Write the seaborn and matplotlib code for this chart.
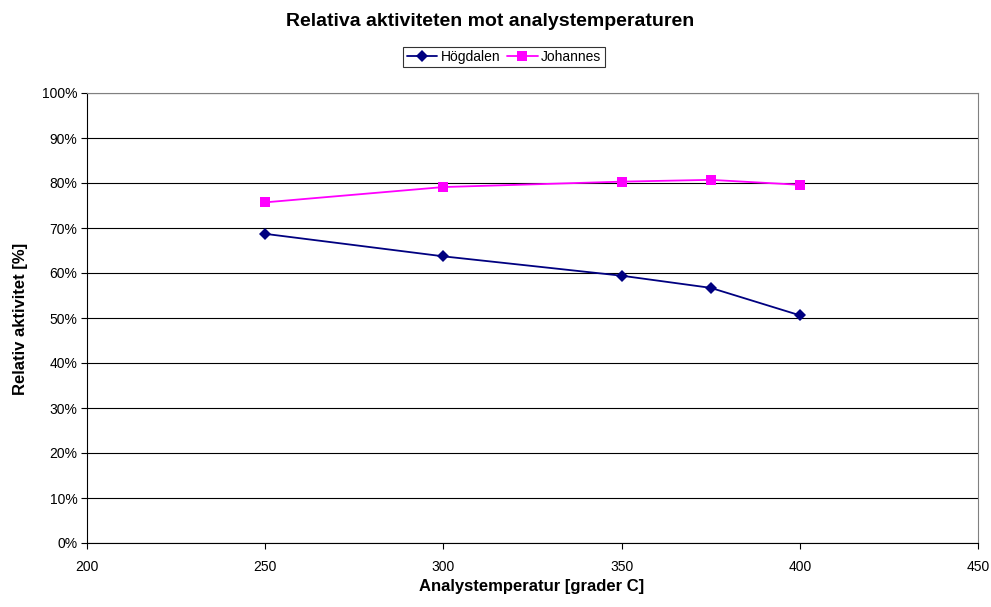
import matplotlib
matplotlib.use("Agg")
import matplotlib.pyplot as plt
import seaborn as sns
import pandas as pd
from matplotlib.ticker import FuncFormatter, MultipleLocator

temperatures = [250, 300, 350, 375, 400]
hogdalen = [68.7, 63.7, 59.4, 56.7, 50.6]
johannes = [75.7, 79.1, 80.3, 80.7, 79.6]
series_names = ["Högdalen", "Johannes"]

df = pd.DataFrame({
    "temp": temperatures * 2,
    "val": hogdalen + johannes,
    "serie": [series_names[0]] * len(temperatures) + [series_names[1]] * len(temperatures),
})

sns.set_theme(style="white")
plt.rcParams['font.family'] = ['Liberation Sans', 'DejaVu Sans']
plt.rcParams['text.color'] = 'black'
plt.rcParams['axes.labelcolor'] = 'black'
plt.rcParams['xtick.color'] = 'black'
plt.rcParams['ytick.color'] = 'black'

W, H = 991, 607
fig = plt.figure(figsize=(W / 100, H / 100), dpi=100)
ax = fig.add_axes([87 / W, 1 - 543 / H, (978 - 87) / W, (543 - 93) / H])

palette = {"Högdalen": "#000080", "Johannes": "#FF00FF"}
markers = {"Högdalen": "D", "Johannes": "s"}
sns.lineplot(data=df, x="temp", y="val", hue="serie", style="serie",
             palette=palette, markers=markers, dashes=False, ax=ax,
             linewidth=1.3, markersize=6.5, markeredgewidth=0, zorder=3)

ax.set_xlim(200, 450)
ax.set_ylim(0, 100)
ax.xaxis.set_major_locator(MultipleLocator(50))
ax.yaxis.set_major_locator(MultipleLocator(10))
ax.yaxis.set_major_formatter(FuncFormatter(lambda v, p: f"{int(round(v))}%"))
ax.grid(axis="y", color="black", linewidth=0.8)
ax.grid(axis="x", visible=False)
ax.set_axisbelow(True)

for s in ["top", "right"]:
    ax.spines[s].set_color("#808080")
    ax.spines[s].set_linewidth(0.8)
for s in ["left", "bottom"]:
    ax.spines[s].set_color("black")
    ax.spines[s].set_linewidth(0.8)

ax.tick_params(axis="both", which="major", direction="out", length=4, width=0.8,
               color="black", labelsize=10, pad=3, bottom=True, left=True)
ax.tick_params(axis="x", pad=8)

ax.set_xlabel("Analystemperatur [grader C]", fontsize=12, fontweight="bold")
ax.set_ylabel("Relativ aktivitet [%]", fontsize=12, fontweight="bold")
ax.xaxis.set_label_coords(532 / W, 1 - 579 / H, transform=fig.transFigure)
ax.yaxis.set_label_coords(28 / W, 1 - 319 / H, transform=fig.transFigure)

fig.text(490 / W, 1 - 21 / H, "Relativa aktiviteten mot analystemperaturen",
         ha="center", va="center", fontsize=14, fontweight="bold")

handles, labels = ax.get_legend_handles_labels()
leg = ax.legend(handles, labels, loc="center", bbox_to_anchor=(504 / W, 1 - 57 / H),
                bbox_transform=fig.transFigure, ncol=2, frameon=True, fancybox=False,
                edgecolor="black", fontsize=10, handlelength=2.2, handletextpad=0.25,
                columnspacing=0.5, borderpad=0.25, borderaxespad=0)
leg.get_frame().set_linewidth(0.8)

fig.savefig("out.png", dpi=100)
